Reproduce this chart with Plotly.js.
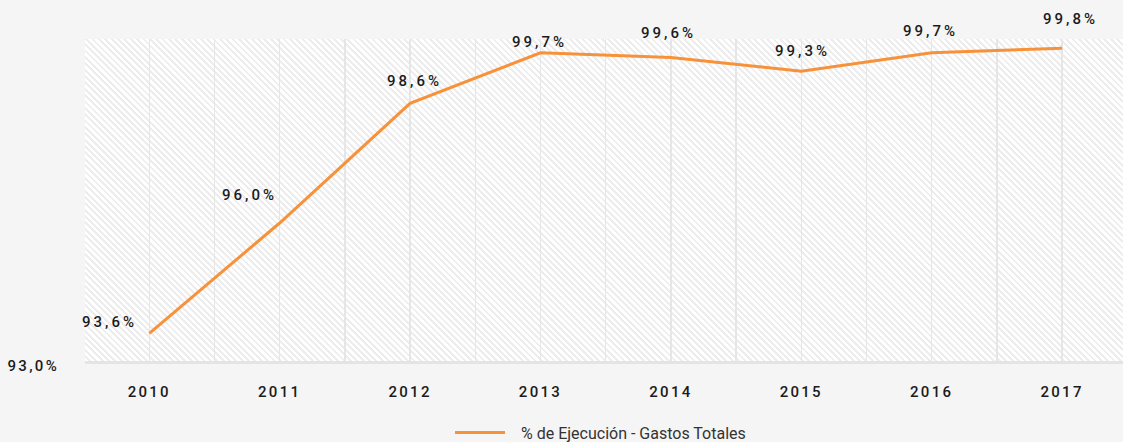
<!DOCTYPE html>
<html>
<head>
<meta charset="utf-8">
<script src="https://cdn.plot.ly/plotly-3.0.1.min.js"></script>
<style>
  html, body { margin: 0; padding: 0; background: #f5f5f5; }
  #wrap { position: relative; width: 1123px; height: 442px; overflow: hidden; }
  #bg { position: absolute; z-index: 0;
        background: repeating-linear-gradient(45deg, #ffffff 0px, #ffffff 2.5px, #ededed 2.5px, #ededed 4.5px); }
  #chart { position: absolute; left: 0; top: 0; z-index: 1; }
  .xtick text, .ytick text { letter-spacing: 2.3px; }
  .annotation-text { letter-spacing: 3px; }
  .legendtext { transform: translateX(11px); }
  .legend, .legend .scrollbox, .legend .groups { clip-path: none !important; }
</style>
</head>
<body>
<div id="wrap">
  <div id="bg"></div>
  <div id="chart"></div>
</div>
<script>
const years = [2010, 2011, 2012, 2013, 2014, 2015, 2016, 2017];
const ejecucion = [93.6, 96.0, 98.6, 99.7, 99.6, 99.3, 99.7, 99.8];
const tickLabels = ['2010', '2011', '2012', '2013', '2014', '2015', '2016', '2017'];
const seriesName = '% de Ejecución - Gastos Totales';

// label offsets (style only)
const labelXShift = [-40, -30, 4, -1, -2, 1, -1, 8];
const labelYShift = [11, 28, 22, 11, 24, 20, 22, 29];

function fmt(v) { return v.toFixed(1).replace('.', ',') + '%'; }

const trace = {
  x: years,
  y: ejecucion,
  type: 'scatter',
  mode: 'lines',
  name: seriesName,
  line: { color: '#f7923a', width: 3 },
  hoverinfo: 'skip'
};

const annotations = years.map((yr, i) => ({
  x: yr, y: ejecucion[i], xref: 'x', yref: 'y',
  text: fmt(ejecucion[i]), showarrow: false,
  xanchor: 'center', yanchor: 'middle',
  xshift: labelXShift[i], yshift: labelYShift[i],
  font: { family: 'Roboto', size: 15, weight: 500, color: '#1b1b1b' }
}));

const layout = {
  width: 1123, height: 442,
  margin: { l: 85, r: 0, t: 39, b: 81, pad: 0 },
  paper_bgcolor: 'rgba(0,0,0,0)',
  plot_bgcolor: 'rgba(0,0,0,0)',
  showlegend: true,
  xaxis: {
    type: 'linear',
    range: [2009.507, 2017.467],
    tickvals: years, ticktext: tickLabels,
    showgrid: true, gridcolor: '#e6e6e6', gridwidth: 1.5,
    minor: { dtick: 0.5, tick0: 2009.5, showgrid: true, gridcolor: '#e6e6e6', gridwidth: 1.5, ticks: '' },
    zeroline: false,
    showline: true, linecolor: '#e4e4e4', linewidth: 3,
    ticks: '', ticklabelstandoff: 15,
    tickfont: { family: 'Roboto', size: 15, weight: 500, color: '#1b1b1b' },
    fixedrange: true
  },
  yaxis: {
    range: [93, 100],
    tickvals: [93], ticktext: ['93,0%'],
    showgrid: false, zeroline: false, showline: false,
    ticks: '', ticklabelstandoff: 25, ticklabelshift: 5,
    tickfont: { family: 'Roboto', size: 15, weight: 500, color: '#1b1b1b' },
    fixedrange: true
  },
  legend: {
    orientation: 'h',
    xref: 'container', yref: 'container',
    x: 450 / 1123, xanchor: 'left',
    y: 9.5 / 442, yanchor: 'middle',
    itemwidth: 50,
    font: { family: 'Roboto', size: 16, color: '#333333' },
    bgcolor: 'rgba(0,0,0,0)'
  },
  annotations: annotations
};

Plotly.newPlot('chart', [trace], layout, { displayModeBar: false, staticPlot: true }).then(gd => {
  const s = gd._fullLayout._size;
  const bg = document.getElementById('bg');
  bg.style.left = s.l + 'px';
  bg.style.top = s.t + 'px';
  bg.style.width = s.w + 'px';
  bg.style.height = s.h + 'px';
});
</script>
</body>
</html>
